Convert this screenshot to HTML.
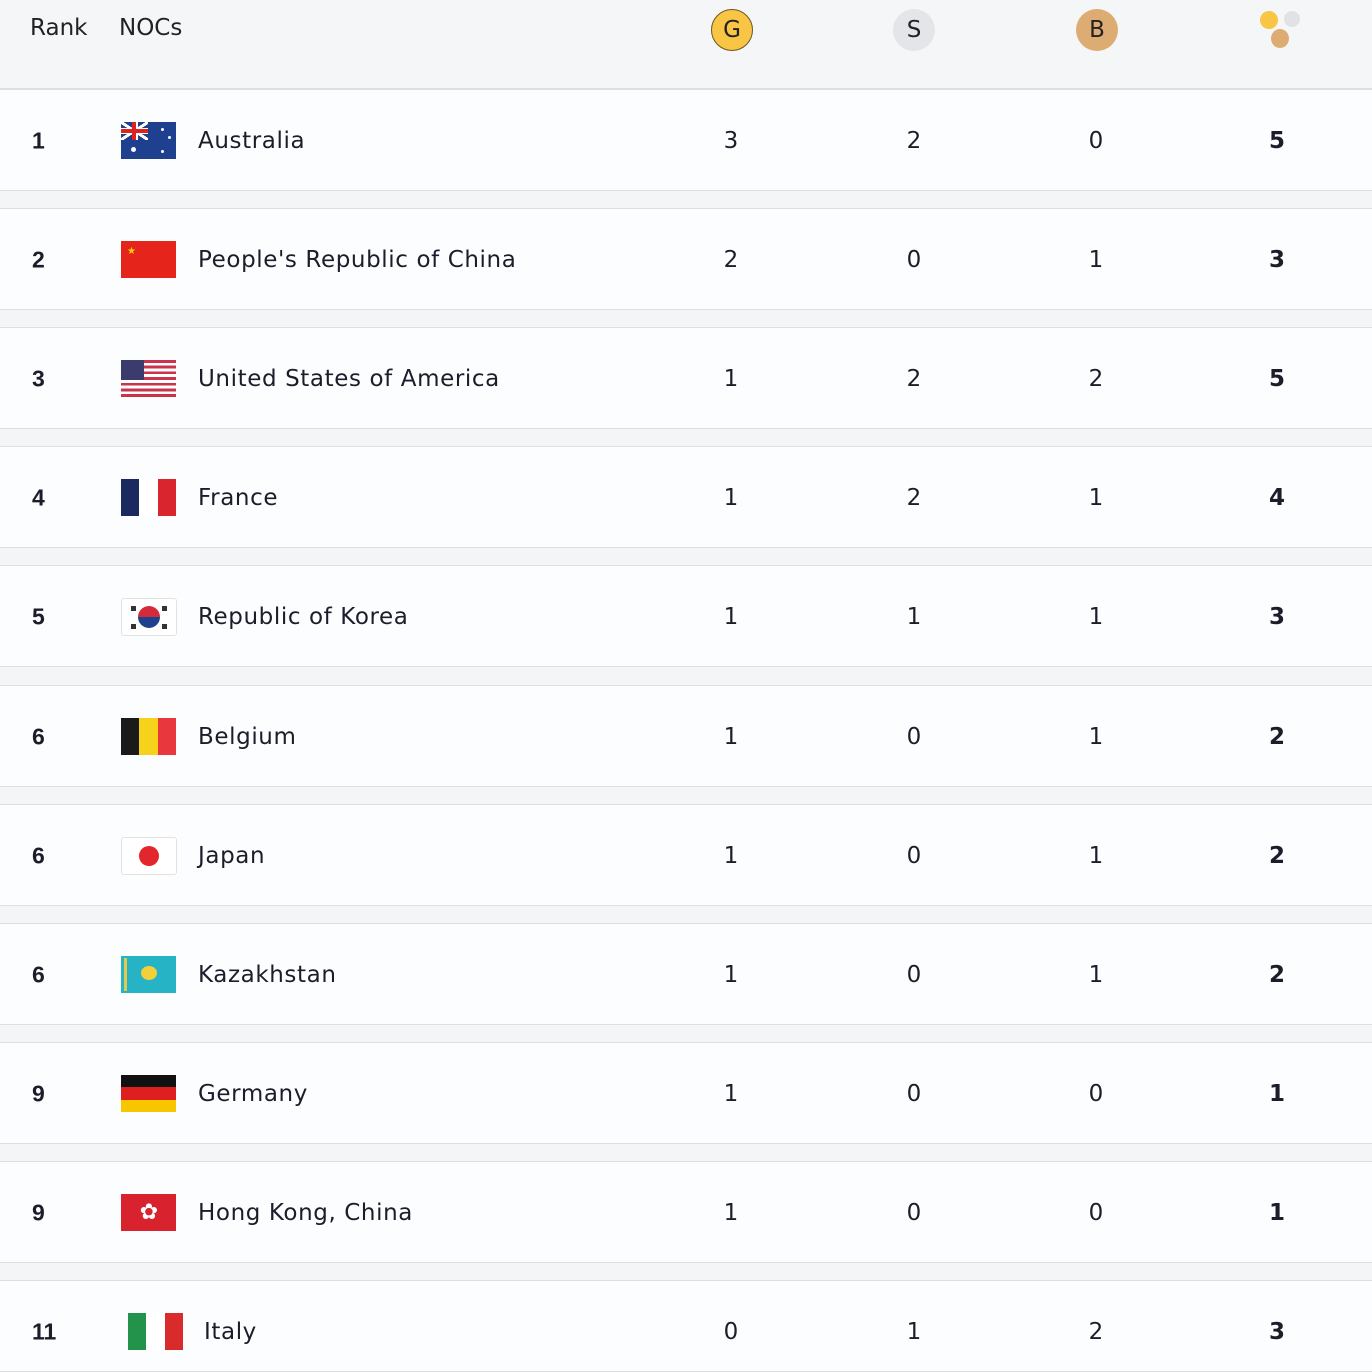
<!DOCTYPE html>
<html><head><meta charset="utf-8"><style>
body{margin:0;width:1372px;height:1360px;background:#f4f5f7;position:relative;overflow:hidden;font-family:"Liberation Sans","DejaVu Sans",sans-serif;color:#1c1c2a}
.hdr{position:absolute;left:0;top:0;width:1372px;height:88px;background:#f5f6f8;border-bottom:1px solid #dcdfe3}
.row{position:absolute;left:0;width:1372px;height:100px;background:#fcfdfe;border-top:1px solid #dcdfe3;border-bottom:1px solid #dcdfe3}
.t{position:absolute;top:51px;transform:translateY(-50%);white-space:nowrap}
.rk{left:32px;font-size:23px;font-weight:bold}
.nm{left:198px;letter-spacing:0.6px;font-family:"DejaVu Sans",sans-serif;font-size:23px}
.n{transform:translate(-50%,-50%);font-family:"DejaVu Sans",sans-serif;font-size:23px}
.tot{font-weight:bold}
.fl{position:absolute;left:121px;top:32px;width:55px;height:37px;overflow:hidden}
.m{position:absolute;top:9px;width:42px;height:42px;border-radius:50%;text-align:center;line-height:42px;font-size:23px;font-family:"DejaVu Sans",sans-serif;color:#222}
</style></head><body>
<div class="hdr">
<div style="position:absolute;left:30px;top:15px;font-size:23px;font-family:'DejaVu Sans',sans-serif;color:#222">Rank</div>
<div style="position:absolute;left:119px;top:15px;font-size:23px;font-family:'DejaVu Sans',sans-serif;color:#222">NOCs</div>
<div class="m" style="left:711px;background:#f8c544;border:1px solid #6b5520;width:40px;height:40px;line-height:40px">G</div>
<div class="m" style="left:893px;background:#e3e5e8">S</div>
<div class="m" style="left:1076px;background:#ddac72">B</div>
<div style="position:absolute;left:1260px;top:11px;width:18px;height:18px;border-radius:50%;background:#f8c544"></div>
<div style="position:absolute;left:1284px;top:11px;width:16px;height:16px;border-radius:50%;background:#e0e2e6"></div>
<div style="position:absolute;left:1271px;top:29px;width:18px;height:19px;border-radius:50%;background:#ddac72"></div>
</div>

<div class="row" style="top:89px"><div class="t rk">1</div>
<div class="fl" style="background:#1f3f8f"><div style="position:absolute;left:0;top:0;width:27px;height:18px;background:linear-gradient(33deg,transparent 45%,#fff 45%,#fff 55%,transparent 55%),linear-gradient(-33deg,transparent 45%,#fff 45%,#fff 55%,transparent 55%),linear-gradient(#fff,#fff) center/100% 6px no-repeat,linear-gradient(#fff,#fff) center/6px 100% no-repeat,#1f3f8f"><div style="position:absolute;left:0;top:7px;width:27px;height:4px;background:#d22"></div><div style="position:absolute;left:11px;top:0;width:4px;height:18px;background:#d22"></div></div><div style="position:absolute;left:10px;top:25px;width:5px;height:5px;border-radius:50%;background:#fff"></div><div style="position:absolute;left:40px;top:6px;width:3px;height:3px;background:#fff;border-radius:50%"></div><div style="position:absolute;left:47px;top:14px;width:3px;height:3px;background:#fff;border-radius:50%"></div><div style="position:absolute;left:40px;top:28px;width:3px;height:3px;background:#fff;border-radius:50%"></div></div>
<div class="t nm">Australia</div><div class="t n" style="left:731px">3</div><div class="t n" style="left:914px">2</div><div class="t n" style="left:1096px">0</div><div class="t n tot" style="left:1277px">5</div></div>

<div class="row" style="top:208px"><div class="t rk">2</div>
<div class="fl" style="background:#e5241c"><div style="position:absolute;left:6px;top:5px;color:#ffd500;font-size:10px">★</div></div>
<div class="t nm">People's Republic of China</div><div class="t n" style="left:731px">2</div><div class="t n" style="left:914px">0</div><div class="t n" style="left:1096px">1</div><div class="t n tot" style="left:1277px">3</div></div>

<div class="row" style="top:327px"><div class="t rk">3</div>
<div class="fl" style="background:repeating-linear-gradient(#c9344c 0,#c9344c 2.85px,#fff 2.85px,#fff 5.7px)"><div style="position:absolute;left:0;top:0;width:23px;height:20px;background:#3b3b6d"></div></div>
<div class="t nm">United States of America</div><div class="t n" style="left:731px">1</div><div class="t n" style="left:914px">2</div><div class="t n" style="left:1096px">2</div><div class="t n tot" style="left:1277px">5</div></div>

<div class="row" style="top:446px"><div class="t rk">4</div>
<div class="fl" style="background:linear-gradient(90deg,#1a2a5e 33%,#fff 33%,#fff 67%,#d9262e 67%)"></div>
<div class="t nm">France</div><div class="t n" style="left:731px">1</div><div class="t n" style="left:914px">2</div><div class="t n" style="left:1096px">1</div><div class="t n tot" style="left:1277px">4</div></div>

<div class="row" style="top:565px"><div class="t rk">5</div>
<div class="fl" style="background:#fff;border:1px solid #e2e2e2;width:54px;height:36px;border-radius:3px"><div style="position:absolute;left:16px;top:7px;width:22px;height:22px;border-radius:50%;background:linear-gradient(#d42a3a 50%,#1f3f8f 50%)"></div><div style="position:absolute;left:9px;top:7px;width:5px;height:5px;background:#333"></div><div style="position:absolute;left:40px;top:7px;width:5px;height:5px;background:#333"></div><div style="position:absolute;left:9px;top:25px;width:5px;height:5px;background:#333"></div><div style="position:absolute;left:40px;top:25px;width:5px;height:5px;background:#333"></div></div>
<div class="t nm">Republic of Korea</div><div class="t n" style="left:731px">1</div><div class="t n" style="left:914px">1</div><div class="t n" style="left:1096px">1</div><div class="t n tot" style="left:1277px">3</div></div>

<div class="row" style="top:685px"><div class="t rk">6</div>
<div class="fl" style="background:linear-gradient(90deg,#1a1a1a 33%,#f7d21a 33%,#f7d21a 67%,#e8383d 67%)"></div>
<div class="t nm">Belgium</div><div class="t n" style="left:731px">1</div><div class="t n" style="left:914px">0</div><div class="t n" style="left:1096px">1</div><div class="t n tot" style="left:1277px">2</div></div>

<div class="row" style="top:804px"><div class="t rk">6</div>
<div class="fl" style="background:#fff;border:1px solid #e2e2e2;width:54px;height:36px;border-radius:3px"><div style="position:absolute;left:17px;top:8px;width:20px;height:20px;border-radius:50%;background:#e3262c"></div></div>
<div class="t nm">Japan</div><div class="t n" style="left:731px">1</div><div class="t n" style="left:914px">0</div><div class="t n" style="left:1096px">1</div><div class="t n tot" style="left:1277px">2</div></div>

<div class="row" style="top:923px"><div class="t rk">6</div>
<div class="fl" style="background:#27b3c6"><div style="position:absolute;left:20px;top:10px;width:16px;height:14px;border-radius:50%;background:#f1d03a"></div><div style="position:absolute;left:3px;top:2px;width:3px;height:33px;background:#e6c84a"></div></div>
<div class="t nm">Kazakhstan</div><div class="t n" style="left:731px">1</div><div class="t n" style="left:914px">0</div><div class="t n" style="left:1096px">1</div><div class="t n tot" style="left:1277px">2</div></div>

<div class="row" style="top:1042px"><div class="t rk">9</div>
<div class="fl" style="background:linear-gradient(#111 33%,#dd1f1f 33%,#dd1f1f 67%,#f7c600 67%)"></div>
<div class="t nm">Germany</div><div class="t n" style="left:731px">1</div><div class="t n" style="left:914px">0</div><div class="t n" style="left:1096px">0</div><div class="t n tot" style="left:1277px">1</div></div>

<div class="row" style="top:1161px"><div class="t rk">9</div>
<div class="fl" style="background:#d8232e"><div style="position:absolute;left:17px;top:4px;width:22px;text-align:center;color:#fff;font-size:22px;line-height:28px">✿</div></div>
<div class="t nm">Hong Kong, China</div><div class="t n" style="left:731px">1</div><div class="t n" style="left:914px">0</div><div class="t n" style="left:1096px">0</div><div class="t n tot" style="left:1277px">1</div></div>

<div class="row" style="top:1280px;height:90px"><div class="t rk">11</div>
<div class="fl" style="left:128px;top:32px;background:linear-gradient(90deg,#23924a 33%,#fff 33%,#fff 67%,#d92b2b 67%)"></div>
<div class="t nm" style="left:204px">Italy</div><div class="t n" style="left:731px">0</div><div class="t n" style="left:914px">1</div><div class="t n" style="left:1096px">2</div><div class="t n tot" style="left:1277px">3</div></div>
</body></html>
